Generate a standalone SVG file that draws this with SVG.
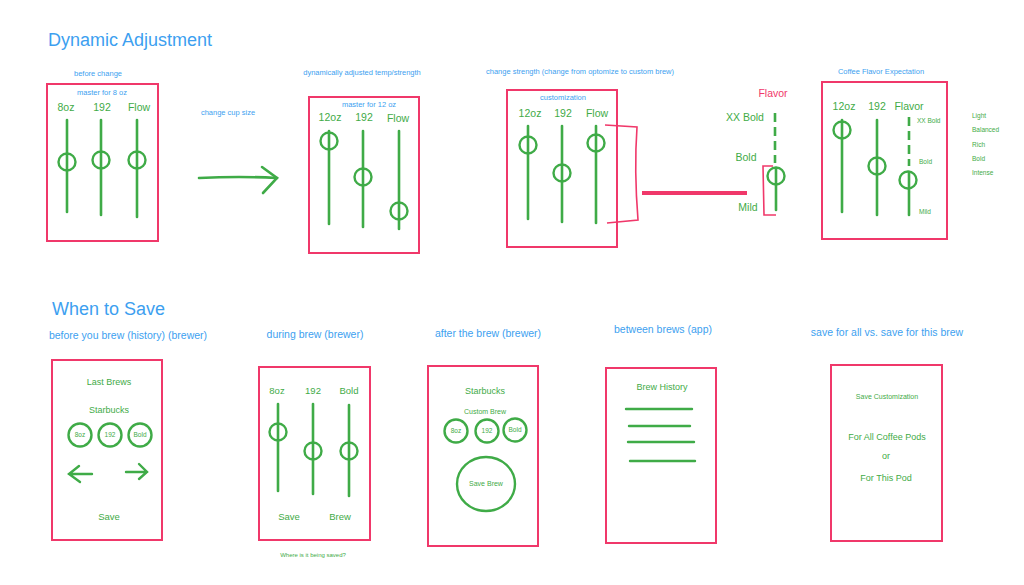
<svg xmlns="http://www.w3.org/2000/svg" width="1024" height="585" viewBox="0 0 1024 585">
<style>
text{font-family:"Liberation Sans",Arial,sans-serif;}
.t1{fill:#3d9ff0;font-size:18px}
.lb{fill:#3d9ff0;font-size:7.5px;text-anchor:middle}
.lb2{fill:#3d9ff0;font-size:10.5px;text-anchor:middle}
.g{fill:#3fab47;text-anchor:middle}
.gs{font-size:10.5px}
.gxs{font-size:6.5px}
.frame{fill:none;stroke:#f0386a;stroke-width:2}
.pk{fill:none;stroke:#f0386a;stroke-width:1.6}
.sl{stroke:#3fab47;stroke-width:2.6;fill:none;stroke-linecap:round}
.kn{stroke:#3fab47;stroke-width:2.4;fill:none}
.dash{stroke:#3fab47;stroke-width:2.6;stroke-dasharray:9,5;fill:none}
.ln{stroke:#3fab47;stroke-width:2.4;fill:none;stroke-linecap:round}
</style>
<rect width="1024" height="585" fill="#ffffff"/>
<text class="t1" x="48" y="46">Dynamic Adjustment</text>
<text class="t1" x="52" y="315" font-size="19">When to Save</text>

<g id="before-change">
<text class="lb" x="98" y="76">before change</text>
<rect class="frame" x="47" y="84" width="111" height="157"/>
<text class="lb" x="102" y="95">master for 8 oz</text>
<text class="g gs" x="66" y="111">8oz</text>
<text class="g gs" x="102" y="111">192</text>
<text class="g gs" x="139" y="111">Flow</text>
<line class="sl" x1="67" y1="120" x2="67" y2="212"/>
<line class="sl" x1="101" y1="120" x2="101" y2="215"/>
<line class="sl" x1="137" y1="120" x2="137" y2="217"/>
<circle class="kn" cx="67" cy="162" r="8.5"/>
<circle class="kn" cx="101" cy="160" r="8.5"/>
<circle class="kn" cx="137" cy="160" r="8.5"/>
</g>

<g id="connectors">
<text class="lb" x="228" y="115">change cup size</text>
<path class="sl" d="M199 178 Q240 176 277 178" stroke-width="3.6"/>
<path class="sl" d="M262 167 L277 178 L263 193" stroke-width="3.6"/>
<line x1="642" y1="193" x2="747" y2="193" stroke="#f0386a" stroke-width="4"/>
</g>

<g id="adjusted">
<text class="lb" x="362" y="75">dynamically adjusted temp/strength</text>
<rect class="frame" x="309" y="97" width="110" height="156"/>
<text class="lb" x="369" y="107">master for 12 oz</text>
<text class="g gs" x="330" y="121">12oz</text>
<text class="g gs" x="364" y="121">192</text>
<text class="g gs" x="398" y="122">Flow</text>
<line class="sl" x1="329" y1="131" x2="329" y2="224"/>
<line class="sl" x1="363" y1="131" x2="363" y2="227"/>
<line class="sl" x1="399" y1="131" x2="399" y2="229"/>
<circle class="kn" cx="329" cy="141" r="8.5"/>
<circle class="kn" cx="363" cy="177" r="8.5"/>
<circle class="kn" cx="399" cy="211" r="8.5"/>
</g>

<g id="customization">
<text class="lb" x="580" y="74">change strength (change from optomize to custom brew)</text>
<rect class="frame" x="507" y="90" width="110" height="157"/>
<text class="lb" x="563" y="100">customization</text>
<text class="g gs" x="530" y="117">12oz</text>
<text class="g gs" x="563" y="117">192</text>
<text class="g gs" x="597" y="117">Flow</text>
<line class="sl" x1="528" y1="126" x2="528" y2="219"/>
<line class="sl" x1="562" y1="126" x2="562" y2="222"/>
<line class="sl" x1="596" y1="126" x2="596" y2="223"/>
<circle class="kn" cx="528" cy="145" r="8.5"/>
<circle class="kn" cx="562" cy="173" r="8.5"/>
<circle class="kn" cx="596" cy="143" r="8.5"/>
<path class="pk" d="M605 125 L637 127 Q634 170 638 220 L607 223"/>
</g>

<g id="flavor-slider">
<text x="773" y="97" fill="#f0386a" font-size="10.5" text-anchor="middle">Flavor</text>
<text class="g gs" x="745" y="121">XX Bold</text>
<text class="g gs" x="746" y="161">Bold</text>
<text class="g gs" x="748" y="211">Mild</text>
<line class="dash" x1="775" y1="113" x2="775" y2="163"/>
<line class="sl" x1="776" y1="168" x2="776" y2="210"/>
<circle class="kn" cx="776" cy="176" r="8.5"/>
<path class="pk" d="M773 166 L763 166 L764 215 L776 215"/>
</g>

<g id="flavor-expectation">
<text class="lb" x="881" y="74">Coffee Flavor Expectation</text>
<rect class="frame" x="822" y="82" width="125" height="157"/>
<text class="g gs" x="844" y="110">12oz</text>
<text class="g gs" x="877" y="110">192</text>
<text class="g gs" x="909" y="110">Flavor</text>
<line class="sl" x1="842" y1="120" x2="842" y2="212"/>
<line class="sl" x1="877" y1="120" x2="877" y2="215"/>
<line class="dash" x1="909" y1="117" x2="909" y2="166"/>
<line class="sl" x1="909" y1="172" x2="909" y2="215"/>
<circle class="kn" cx="842" cy="130" r="8.5"/>
<circle class="kn" cx="877" cy="166" r="8.5"/>
<circle class="kn" cx="908" cy="180" r="8.5"/>
<g class="g gxs" text-anchor="start">
<text x="917" y="123" text-anchor="start">XX Bold</text>
<text x="919" y="164" text-anchor="start">Bold</text>
<text x="919" y="214" text-anchor="start">Mild</text>
<text x="972" y="118" text-anchor="start">Light</text>
<text x="972" y="132" text-anchor="start">Balanced</text>
<text x="972" y="147" text-anchor="start">Rich</text>
<text x="972" y="161" text-anchor="start">Bold</text>
<text x="972" y="175" text-anchor="start">Intense</text>
</g>
</g>

<g id="before-brew">
<text class="lb2" x="128" y="339">before you brew (history) (brewer)</text>
<rect class="frame" x="52" y="360" width="110" height="180"/>
<text class="g" font-size="9" x="109" y="385">Last Brews</text>
<text class="g" font-size="9" x="109" y="413">Starbucks</text>
<circle class="kn" cx="80" cy="435" r="11.5" stroke-width="2"/>
<circle class="kn" cx="110" cy="435" r="11.5" stroke-width="2"/>
<circle class="kn" cx="140" cy="435" r="11.5" stroke-width="2"/>
<text class="g gxs" x="80" y="437">8oz</text>
<text class="g gxs" x="110" y="437">192</text>
<text class="g gxs" x="140" y="437">Bold</text>
<path class="ln" d="M92 474 L69 474 M79 466 L69 474 L80 482"/>
<path class="ln" d="M126 472 L147 472 M139 464 L147 472 L139 479"/>
<text class="g" font-size="9.5" x="109" y="520">Save</text>
</g>

<g id="during-brew">
<text class="lb2" x="315" y="338">during brew (brewer)</text>
<rect class="frame" x="259" y="367" width="111" height="173"/>
<text class="g" font-size="9.5" x="277" y="394">8oz</text>
<text class="g" font-size="9.5" x="313" y="394">192</text>
<text class="g" font-size="9.5" x="349" y="394">Bold</text>
<line class="sl" x1="278" y1="404" x2="278" y2="491"/>
<line class="sl" x1="313" y1="404" x2="313" y2="494"/>
<line class="sl" x1="349" y1="405" x2="349" y2="496"/>
<circle class="kn" cx="278" cy="432" r="8.5"/>
<circle class="kn" cx="313" cy="451" r="8.5"/>
<circle class="kn" cx="349" cy="451" r="8.5"/>
<text class="g" font-size="9.5" x="289" y="520">Save</text>
<text class="g" font-size="9.5" x="340" y="520">Brew</text>
<text class="g" font-size="6" x="313" y="557">Where is it being saved?</text>
</g>

<g id="after-brew">
<text class="lb2" x="488" y="337">after the brew (brewer)</text>
<rect class="frame" x="428" y="366" width="110" height="180"/>
<text class="g" font-size="9" x="485" y="394">Starbucks</text>
<text class="g" font-size="7" x="485" y="414">Custom Brew</text>
<circle class="kn" cx="456" cy="431" r="11.5" stroke-width="2"/>
<circle class="kn" cx="487" cy="431" r="11.5" stroke-width="2"/>
<circle class="kn" cx="515" cy="430" r="11.5" stroke-width="2"/>
<text class="g gxs" x="456" y="433">8oz</text>
<text class="g gxs" x="487" y="433">192</text>
<text class="g gxs" x="515" y="432">Bold</text>
<ellipse class="kn" cx="486" cy="484" rx="29" ry="27" stroke-width="2"/>
<text class="g" font-size="7" x="486" y="486">Save Brew</text>
</g>

<g id="between-brews">
<text class="lb2" x="663" y="333">between brews (app)</text>
<rect class="frame" x="606" y="368" width="110" height="175"/>
<text class="g" font-size="9" x="662" y="390">Brew History</text>
<line class="ln" x1="626" y1="409" x2="692" y2="409"/>
<line class="ln" x1="629" y1="426" x2="690" y2="426"/>
<line class="ln" x1="628" y1="442" x2="694" y2="442"/>
<line class="ln" x1="630" y1="461" x2="695" y2="461"/>
</g>

<g id="save-for-all">
<text class="lb2" x="887" y="336">save for all vs. save for this brew</text>
<rect class="frame" x="831" y="365" width="111" height="176"/>
<text class="g" font-size="7" x="887" y="399">Save Customization</text>
<text class="g" font-size="9" x="887" y="440">For All Coffee Pods</text>
<text class="g" font-size="9" x="886" y="459">or</text>
<text class="g" font-size="9" x="886" y="481">For This Pod</text>
</g>
</svg>
